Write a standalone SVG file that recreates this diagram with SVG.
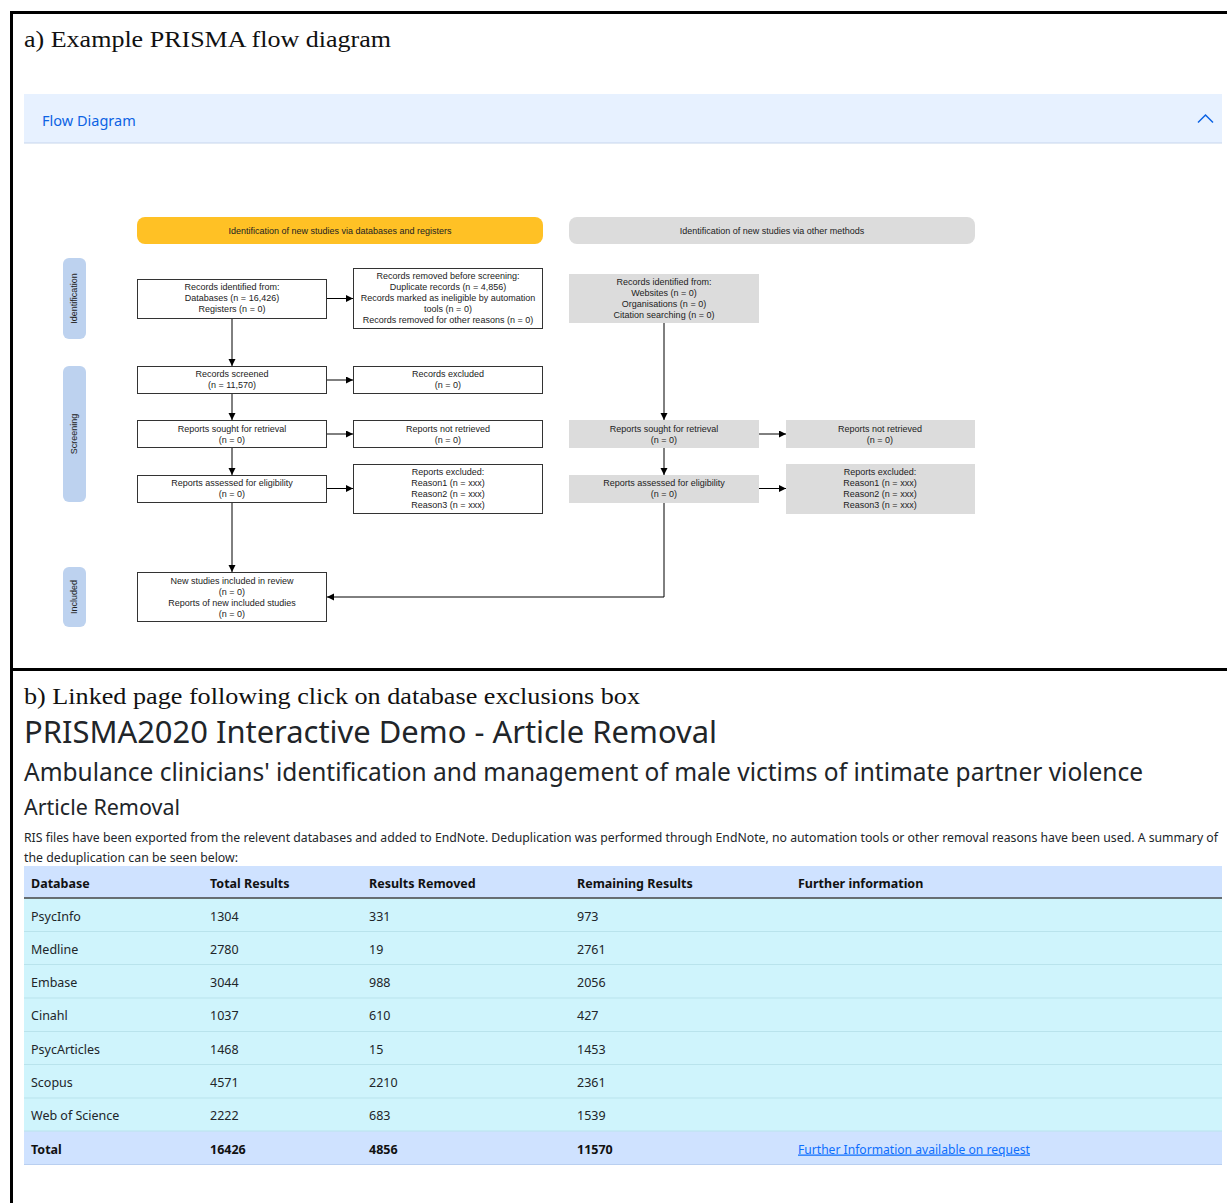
<svg xmlns="http://www.w3.org/2000/svg" width="1227" height="1203" viewBox="0 0 1227 1203">
<defs>
<marker id="ah" markerWidth="8" markerHeight="8" refX="7" refY="3.5" orient="auto" markerUnits="userSpaceOnUse">
<path d="M0,0 L7,3.5 L0,7 Z" fill="#000"/>
</marker>
<style>
.serif{font-family:"Liberation Serif","DejaVu Serif",serif;fill:#111;}
.ui{font-family:"Noto Sans","Open Sans",sans-serif;fill:#212529;}
.d{font-family:"Liberation Sans",Arial,sans-serif;font-size:9px;fill:#222;text-anchor:middle;}
.wb{fill:#fff;stroke:#333;stroke-width:1;}
.gb{fill:#dcdcdc;}
.side{fill:#bdd2ef;}
.con{stroke:#000;stroke-width:1;fill:none;}
.th{font-family:"Noto Sans","Open Sans",sans-serif;font-size:12.5px;font-weight:bold;fill:#111;}
.td{font-family:"Noto Sans","Open Sans",sans-serif;font-size:12.5px;fill:#212529;}
.row{fill:#cff4fc;}
.sep{stroke:#b9e3ec;stroke-width:1;}
</style>
</defs>
<rect width="1227" height="1203" fill="#fff"/>
<g id="frame" stroke="#000" stroke-width="3" fill="none">
<path d="M11.5,1203 L11.5,12.5 L1227,12.5"/>
<path d="M11.5,669.5 L1227,669.5"/>
</g>
<text class="serif" x="24" y="47" font-size="24" textLength="367" lengthAdjust="spacingAndGlyphs">a) Example PRISMA flow diagram</text>
<g id="accordion">
<rect x="24" y="94" width="1198" height="49" fill="#e7f1ff"/>
<line x1="24" y1="143" x2="1222" y2="143" stroke="#c6d5ec" stroke-width="1"/>
<text x="42" y="126" font-family="Noto Sans,Open Sans,sans-serif" font-size="14.5" fill="#0c63e4">Flow Diagram</text>
<path d="M1198,122.5 L1205.5,115 L1213,122.5" stroke="#0c63e4" stroke-width="1.5" fill="none"/>
</g>
<g id="hdr-db"><rect x="137" y="217" width="406" height="27" rx="8" fill="#ffc125"/><text class="d" x="340" y="233.5">Identification of new studies via databases and registers</text></g>
<g id="hdr-other"><rect x="569" y="217" width="406" height="27" rx="8" fill="#dcdcdc"/><text class="d" x="772" y="233.5">Identification of new studies via other methods</text></g>
<g id="side-ident"><rect class="side" x="63" y="258" width="23" height="81" rx="6"/><text class="d" transform="translate(76.5,298.5) rotate(-90)">Identification</text></g>
<g id="side-screen"><rect class="side" x="63" y="366" width="23" height="136" rx="6"/><text class="d" transform="translate(76.5,434) rotate(-90)">Screening</text></g>
<g id="side-incl"><rect class="side" x="63" y="567" width="23" height="60" rx="6"/><text class="d" transform="translate(76.5,597) rotate(-90)">Included</text></g>
<g id="n-rec-id"><rect class="wb" x="137.5" y="279.5" width="189" height="39"/>
<text class="d" x="232" y="290">Records identified from:</text><text class="d" x="232" y="301">Databases (n = 16,426)</text><text class="d" x="232" y="312">Registers (n = 0)</text></g>
<g id="n-rec-removed"><rect class="wb" x="353.5" y="268.5" width="189" height="60"/>
<text class="d" x="448" y="279">Records removed before screening:</text><text class="d" x="448" y="290">Duplicate records (n = 4,856)</text><text class="d" x="448" y="301">Records marked as ineligible by automation</text><text class="d" x="448" y="312">tools (n = 0)</text><text class="d" x="448" y="323">Records removed for other reasons (n = 0)</text></g>
<g id="n-screened"><rect class="wb" x="137.5" y="366.5" width="189" height="27"/>
<text class="d" x="232" y="377">Records screened</text><text class="d" x="232" y="388">(n = 11,570)</text></g>
<g id="n-excluded"><rect class="wb" x="353.5" y="366.5" width="189" height="27"/>
<text class="d" x="448" y="377">Records excluded</text><text class="d" x="448" y="388">(n = 0)</text></g>
<g id="n-sought"><rect class="wb" x="137.5" y="420.5" width="189" height="27"/>
<text class="d" x="232" y="431.5">Reports sought for retrieval</text><text class="d" x="232" y="442.5">(n = 0)</text></g>
<g id="n-notret"><rect class="wb" x="353.5" y="420.5" width="189" height="27"/>
<text class="d" x="448" y="431.5">Reports not retrieved</text><text class="d" x="448" y="442.5">(n = 0)</text></g>
<g id="n-assessed"><rect class="wb" x="137.5" y="475.5" width="189" height="27"/>
<text class="d" x="232" y="486">Reports assessed for eligibility</text><text class="d" x="232" y="497">(n = 0)</text></g>
<g id="n-repexcl"><rect class="wb" x="353.5" y="464.5" width="189" height="49"/>
<text class="d" x="448" y="475">Reports excluded:</text><text class="d" x="448" y="486">Reason1 (n =  xxx)</text><text class="d" x="448" y="497">Reason2 (n =  xxx)</text><text class="d" x="448" y="508">Reason3 (n =  xxx)</text></g>
<g id="n-included"><rect class="wb" x="137.5" y="572.5" width="189" height="49"/>
<text class="d" x="232" y="584">New studies included in review</text><text class="d" x="232" y="595">(n = 0)</text><text class="d" x="232" y="606">Reports of new included studies</text><text class="d" x="232" y="617">(n = 0)</text></g>
<g id="o-rec-id"><rect class="gb" x="569" y="274" width="190" height="49"/>
<text class="d" x="664" y="285">Records identified from:</text><text class="d" x="664" y="296">Websites (n = 0)</text><text class="d" x="664" y="307">Organisations (n = 0)</text><text class="d" x="664" y="318">Citation searching (n = 0)</text></g>
<g id="o-sought"><rect class="gb" x="569" y="420" width="190" height="28"/>
<text class="d" x="664" y="431.5">Reports sought for retrieval</text><text class="d" x="664" y="442.5">(n = 0)</text></g>
<g id="o-notret"><rect class="gb" x="786" y="420" width="189" height="28"/>
<text class="d" x="880" y="431.5">Reports not retrieved</text><text class="d" x="880" y="442.5">(n = 0)</text></g>
<g id="o-assessed"><rect class="gb" x="569" y="475" width="190" height="28"/>
<text class="d" x="664" y="486">Reports assessed for eligibility</text><text class="d" x="664" y="497">(n = 0)</text></g>
<g id="o-repexcl"><rect class="gb" x="786" y="464" width="189" height="50"/>
<text class="d" x="880" y="475">Reports excluded:</text><text class="d" x="880" y="486">Reason1 (n =  xxx)</text><text class="d" x="880" y="497">Reason2 (n =  xxx)</text><text class="d" x="880" y="508">Reason3 (n =  xxx)</text></g>
<g id="connectors" class="con" marker-end="url(#ah)">
<path d="M232,319 V366"/>
<path d="M232,394 V420"/>
<path d="M232,448 V475"/>
<path d="M232,503 V572"/>
<path d="M327,298.5 H353"/>
<path d="M327,380 H353"/>
<path d="M327,434 H353"/>
<path d="M327,488.5 H353"/>
<path d="M664,323 V420"/>
<path d="M664,448 V475"/>
<path d="M664,503 V597 H327"/>
<path d="M759,434 H786"/>
<path d="M759,488.5 H786"/>
</g>
<text class="serif" x="24" y="704" font-size="24" textLength="616" lengthAdjust="spacingAndGlyphs">b) Linked page following click on database exclusions box</text>
<text class="ui" x="24" y="743" font-size="31" textLength="693" lengthAdjust="spacingAndGlyphs">PRISMA2020 Interactive Demo - Article Removal</text>
<text class="ui" x="24" y="781" font-size="25" textLength="1119" lengthAdjust="spacingAndGlyphs">Ambulance clinicians' identification and management of male victims of intimate partner violence</text>
<text class="ui" x="24" y="815" font-size="21" textLength="156" lengthAdjust="spacingAndGlyphs">Article Removal</text>
<text class="ui" x="24" y="842" font-size="12" textLength="1194" lengthAdjust="spacingAndGlyphs">RIS files have been exported from the relevent databases and added to EndNote. Deduplication was performed through EndNote, no automation tools or other removal reasons have been used. A summary of</text>
<text class="ui" x="24" y="862" font-size="12.5" textLength="214" lengthAdjust="spacingAndGlyphs">the deduplication can be seen below:</text>
<g id="table">
<rect x="24" y="866" width="1198" height="32" fill="#cfe2ff"/>
<rect class="row" x="24" y="898" width="1198" height="233"/>
<rect x="24" y="1131" width="1198" height="33.5" fill="#cfe2ff"/>
<line x1="24" y1="898" x2="1222" y2="898" stroke="#444" stroke-width="1.5"/>
<g class="sep">
<line x1="24" y1="931.5" x2="1222" y2="931.5"/>
<line x1="24" y1="964.5" x2="1222" y2="964.5"/>
<line x1="24" y1="998" x2="1222" y2="998"/>
<line x1="24" y1="1031.5" x2="1222" y2="1031.5"/>
<line x1="24" y1="1064.5" x2="1222" y2="1064.5"/>
<line x1="24" y1="1098" x2="1222" y2="1098"/>
<line x1="24" y1="1131" x2="1222" y2="1131"/>
<line x1="24" y1="1164.5" x2="1222" y2="1164.5" stroke="#b9cff0"/>
</g>
<g class="th">
<text x="31" y="887.5">Database</text><text x="210" y="887.5">Total Results</text><text x="369" y="887.5">Results Removed</text><text x="577" y="887.5">Remaining Results</text><text x="798" y="887.5">Further information</text>
</g>
<g class="td">
<text x="31" y="921">PsycInfo</text><text x="210" y="921">1304</text><text x="369" y="921">331</text><text x="577" y="921">973</text>
<text x="31" y="954">Medline</text><text x="210" y="954">2780</text><text x="369" y="954">19</text><text x="577" y="954">2761</text>
<text x="31" y="987">Embase</text><text x="210" y="987">3044</text><text x="369" y="987">988</text><text x="577" y="987">2056</text>
<text x="31" y="1020">Cinahl</text><text x="210" y="1020">1037</text><text x="369" y="1020">610</text><text x="577" y="1020">427</text>
<text x="31" y="1053.5">PsycArticles</text><text x="210" y="1053.5">1468</text><text x="369" y="1053.5">15</text><text x="577" y="1053.5">1453</text>
<text x="31" y="1087">Scopus</text><text x="210" y="1087">4571</text><text x="369" y="1087">2210</text><text x="577" y="1087">2361</text>
<text x="31" y="1120">Web of Science</text><text x="210" y="1120">2222</text><text x="369" y="1120">683</text><text x="577" y="1120">1539</text>
</g>
<g class="th">
<text x="31" y="1153.5">Total</text><text x="210" y="1153.5">16426</text><text x="369" y="1153.5">4856</text><text x="577" y="1153.5">11570</text>
</g>
<text x="798" y="1153.5" font-family="Noto Sans,Open Sans,sans-serif" font-size="12.5" fill="#0d6efd" text-decoration="underline" textLength="232" lengthAdjust="spacingAndGlyphs">Further Information available on request</text>
</g>
</svg>
